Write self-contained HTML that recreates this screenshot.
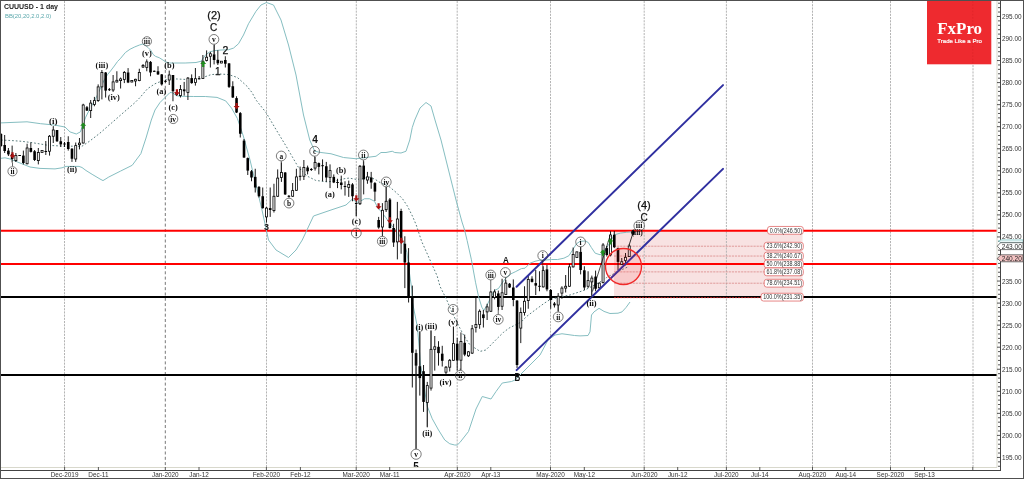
<!DOCTYPE html><html><head><meta charset="utf-8"><style>html,body{margin:0;padding:0;background:#fff;}svg{display:block;}text{font-family:"Liberation Sans",Arial,sans-serif;}.sf{font-family:"Liberation Serif","Times New Roman",serif;}</style></head><body>
<svg width="1024" height="479" viewBox="0 0 1024 479">
<rect x="0" y="0" width="1024" height="479" fill="#fff"/>
<rect x="614" y="230.65" width="188.5" height="66.35" fill="#f8e2e2"/>
<line x1="64.5" y1="1" x2="64.5" y2="467" stroke="#b4b4b4" stroke-width="1" stroke-dasharray="2.1,1.1"/>
<line x1="165.3" y1="1" x2="165.3" y2="467" stroke="#777" stroke-width="1" stroke-dasharray="3,2.3"/>
<line x1="266.5" y1="1" x2="266.5" y2="467" stroke="#b4b4b4" stroke-width="1" stroke-dasharray="2.1,1.1"/>
<line x1="356.3" y1="1" x2="356.3" y2="467" stroke="#b4b4b4" stroke-width="1" stroke-dasharray="2.1,1.1"/>
<line x1="457.2" y1="1" x2="457.2" y2="467" stroke="#b4b4b4" stroke-width="1" stroke-dasharray="2.1,1.1"/>
<line x1="550.5" y1="1" x2="550.5" y2="467" stroke="#b4b4b4" stroke-width="1" stroke-dasharray="2.1,1.1"/>
<line x1="644.2" y1="1" x2="644.2" y2="467" stroke="#b4b4b4" stroke-width="1" stroke-dasharray="2.1,1.1"/>
<line x1="726.4" y1="1" x2="726.4" y2="467" stroke="#b4b4b4" stroke-width="1" stroke-dasharray="2.1,1.1"/>
<line x1="812.5" y1="1" x2="812.5" y2="467" stroke="#b4b4b4" stroke-width="1" stroke-dasharray="2.1,1.1"/>
<line x1="890.5" y1="1" x2="890.5" y2="467" stroke="#b4b4b4" stroke-width="1" stroke-dasharray="2.1,1.1"/>
<line x1="973" y1="1" x2="973" y2="467" stroke="#b4b4b4" stroke-width="1" stroke-dasharray="2.1,1.1"/>
<line x1="614" y1="246.21" x2="802.5" y2="246.21" stroke="#d98888" stroke-width="0.8" stroke-dasharray="2.2,0.9"/>
<line x1="614" y1="256.05" x2="802.5" y2="256.05" stroke="#d98888" stroke-width="0.8" stroke-dasharray="2.2,0.9"/>
<line x1="614" y1="271.88" x2="802.5" y2="271.88" stroke="#d98888" stroke-width="0.8" stroke-dasharray="2.2,0.9"/>
<line x1="614" y1="283.21" x2="802.5" y2="283.21" stroke="#d98888" stroke-width="0.8" stroke-dasharray="2.2,0.9"/>
<line x1="1" y1="230.65" x2="997" y2="230.65" stroke="#ff0000" stroke-width="2"/>
<line x1="1" y1="263.9" x2="997" y2="263.9" stroke="#ff0000" stroke-width="2"/>
<line x1="1" y1="297" x2="997" y2="297" stroke="#000" stroke-width="2"/>
<line x1="1" y1="375" x2="997" y2="375" stroke="#000" stroke-width="2"/>
<line x1="614" y1="297.6" x2="802.5" y2="297.6" stroke="#c42020" stroke-width="0.9" stroke-dasharray="2.2,0.9"/>
<polyline points="1,122.9 27,121.8 40.7,123.7 54.2,125 65,127 70,131.9 76.3,134 80.4,131.9 82.5,125.6 85.7,117.2 89.8,108.9 93,103.5 96,98 98,93.6 101.8,85.4 104.3,79.8 107.4,74.8 110.5,71 114.3,66 117.5,61.5 120.7,58.2 125.4,52.5 130.1,49.2 134.8,46.9 139.5,45 142.3,44.1 145.1,45 147.9,47.4 150.7,50.2 153.1,54.4 155.4,56.3 159.2,57.7 162.9,60 165.8,61.9 169.5,63 174.3,63 185.1,63 196,62.5 201,61.25 206,54.4 209.75,51.9 214.75,50.6 221,50 228.5,49.75 233.5,48.1 238.5,43.75 243.5,35 248.5,23.75 256,11.25 261,5 266.5,2.5 273.5,5 281,20 288.5,45 296,75 303.5,115 309.75,140 314.75,151.25 321,152.5 331,153.75 343.5,157.5 356,158.75 366,157.5 376,156.25 381,152.5 386,152.5 392.25,151.25 394.75,152.5 401,153 406,151.25 409.75,140 412.25,127.5 414.75,120 420,108 426,102.5 431,106 435,120 441,140 448.5,170 456,200 462,222 464.6,230 467.1,240.4 471.3,259.2 475.5,282.2 478.6,296.8 481.8,307.2 483.8,310.4 487,305.2 491.1,296.8 494.3,290.5 498.5,288.5 502.6,282.2 506.8,277 511,273.8 515.2,271.8 521.4,268.6 525,268.2 530,263.2 535,261.3 540,260.1 545,260.1 551.3,259.5 557.6,259.5 563.9,258.2 568.9,255.7 572.6,250 576.4,243.8 580.2,241.3 585.2,241 588.3,242.5 591.4,247.6 595.2,253.2 600.2,254.8 602.7,252.6 606.5,247.6 610.2,242.5 614,235 620.3,233.1 626.5,232.3 631.5,231.9" fill="none" stroke="#86bec1" stroke-width="1" stroke-linejoin="round"/>
<polyline points="1,158.3 5,157.8 10,159 20,163 30,167 40,168.4 55,168.9 62,167.8 66,166.4 79,166.4 82,167.5 86,170.5 92.1,174.3 100,179 103,180.6 108.8,177 120.5,171.1 132.2,165.3 140.9,153.6 146,138 151.3,120 155,110 160,102.5 165,97.5 170,92.5 172.5,92.75 176.3,95.6 180,96.25 193.6,96.5 205.3,96.5 217,97.4 225.7,100.9 231.6,108.2 237.4,118.5 243.3,136 250,160 256,185 262,210 268.5,240 276,250 288.5,257.5 296,250 302.25,240 313.5,216 331,210 346,205 352,199.4 358.25,202.5 364.5,198.75 369.5,198.75 374.5,201.25 377,206.25 380.75,211.25 385.75,217.5 389.5,222.5 393.25,227.5 397,231.25 400.75,237.5 404.5,245 407,252.5 409,270 411.9,290 412.5,302.5 415,315 417.5,327.5 419.4,350 420.5,365 423,377.5 425.4,395 427.25,406.25 432.25,418.75 438.5,430 444.75,440 449.75,443.75 454.75,445 457.25,445 459.9,442.5 468.5,431.5 476,409 482.25,396.5 491,399 496,391.5 502.25,383 511.5,381.5 515,380 520,375 530,365 540,355 548,340 555,335 562,333.75 574.5,335.5 580,335.9 588,335.5 590,331.8 591.5,315 594,311.9 599,308.3 604,311.4 610,313.5 618,313.2 622,311.9 626,307.5 630,302" fill="none" stroke="#86bec1" stroke-width="1" stroke-linejoin="round"/>
<polyline points="1,140 10.8,140.5 21.7,141.3 32.5,142.7 48.8,145.4 65,146.2 75.9,146.2 81.3,146.7 89.4,141.3 100,133.1 111.7,122.9 123.4,112.6 135.1,102.5 140,97.5 147.5,88.75 155,83.75 161.3,81.25 165,80 171.3,78.75 177.5,79 185,79.4 200,78.5 211.1,74.6 219.9,74 228.7,74.6 237.4,77.5 246.8,86 252,92.5 256,100 266,112.5 276,129.5 286.5,146.8 298.2,167 307,176 315.7,180.4 327.4,181.9 339,180.4 344,178.75 349,178.1 356.5,179.4 362.75,178.75 369,176.9 375.25,179.4 380,182.5 388.75,186.25 396.25,192.5 402.5,198.75 407.5,206.25 412.5,216.25 416.25,225 421.6,241.25 432.25,265 437.25,276.25 440,286.4 446.3,298.9 452.5,313.5 458.8,326 464,336 470,345 478,350 480,351.4 485.8,350 491.7,344.1 497.5,338.2 503.4,332.4 509.2,328 515.1,325.1 520.9,322.2 526.8,316.3 532.6,311.9 538.5,307.5 544.3,303.2 550.2,299.5 560,297 570,295 585,290 600,282 606.5,277.6 617,272 629,266.4" fill="none" stroke="#587c7d" stroke-width="1" stroke-dasharray="1.7,2" stroke-linejoin="round"/>
<line x1="0.92" y1="133" x2="0.92" y2="147" stroke="#000" stroke-width="0.9"/>
<rect x="-0.38" y="134" width="2.6" height="12" fill="#000"/>
<line x1="4.66" y1="135" x2="4.66" y2="153" stroke="#000" stroke-width="0.9"/>
<rect x="3.36" y="145" width="2.6" height="6" fill="#000"/>
<line x1="8.4" y1="148" x2="8.4" y2="156" stroke="#000" stroke-width="0.9"/>
<rect x="7.1" y="150.6" width="2.6" height="3.8" fill="#000"/>
<line x1="12.14" y1="145.6" x2="12.14" y2="162.5" stroke="#000" stroke-width="0.9"/>
<rect x="10.84" y="154" width="2.6" height="5" fill="#000"/>
<line x1="15.88" y1="153" x2="15.88" y2="162" stroke="#000" stroke-width="0.9"/>
<rect x="14.88" y="155.6" width="2.0" height="5" fill="#fff" stroke="#000" stroke-width="0.8"/>
<line x1="19.62" y1="155" x2="19.62" y2="156" stroke="#000" stroke-width="0.9"/>
<rect x="18.32" y="155" width="2.6" height="1" fill="#000"/>
<line x1="23.36" y1="150.6" x2="23.36" y2="164.4" stroke="#000" stroke-width="0.9"/>
<rect x="22.06" y="155.6" width="2.6" height="7.4" fill="#000"/>
<line x1="27.1" y1="143.75" x2="27.1" y2="164.4" stroke="#000" stroke-width="0.9"/>
<rect x="26.1" y="148" width="2.0" height="15.75" fill="#fff" stroke="#000" stroke-width="0.8"/>
<line x1="30.84" y1="142.5" x2="30.84" y2="152.5" stroke="#000" stroke-width="0.9"/>
<rect x="29.54" y="148" width="2.6" height="3.9" fill="#000"/>
<line x1="34.58" y1="150" x2="34.58" y2="161" stroke="#000" stroke-width="0.9"/>
<rect x="33.28" y="151.25" width="2.6" height="8.75" fill="#000"/>
<line x1="38.32" y1="148" x2="38.32" y2="164.4" stroke="#000" stroke-width="0.9"/>
<rect x="37.32" y="152.5" width="2.0" height="8.1" fill="#fff" stroke="#000" stroke-width="0.8"/>
<line x1="42.06" y1="150.4" x2="42.06" y2="152.5" stroke="#000" stroke-width="0.9"/>
<rect x="41.06" y="150.4" width="2.0" height="2.1" fill="#fff" stroke="#000" stroke-width="0.8"/>
<line x1="45.8" y1="141" x2="45.8" y2="155" stroke="#000" stroke-width="0.9"/>
<rect x="44.5" y="151" width="2.6" height="1" fill="#000"/>
<line x1="49.54" y1="135" x2="49.54" y2="155.6" stroke="#000" stroke-width="0.9"/>
<rect x="48.54" y="136.25" width="2.0" height="15" fill="#fff" stroke="#000" stroke-width="0.8"/>
<line x1="53.28" y1="126.25" x2="53.28" y2="143" stroke="#000" stroke-width="0.9"/>
<rect x="52.28" y="130" width="2.0" height="6.25" fill="#fff" stroke="#000" stroke-width="0.8"/>
<line x1="57.02" y1="130" x2="57.02" y2="142" stroke="#000" stroke-width="0.9"/>
<rect x="55.72" y="130" width="2.6" height="11.25" fill="#000"/>
<line x1="60.76" y1="137" x2="60.76" y2="147" stroke="#000" stroke-width="0.9"/>
<rect x="59.46" y="141.25" width="2.6" height="3.15" fill="#000"/>
<line x1="64.5" y1="142" x2="64.5" y2="147" stroke="#000" stroke-width="0.9"/>
<rect x="63.2" y="143.5" width="2.6" height="1" fill="#000"/>
<line x1="68.24" y1="136.25" x2="68.24" y2="150.6" stroke="#000" stroke-width="0.9"/>
<rect x="66.94" y="142" width="2.6" height="7" fill="#000"/>
<line x1="71.98" y1="148" x2="71.98" y2="161.9" stroke="#000" stroke-width="0.9"/>
<rect x="70.68" y="148.75" width="2.6" height="10" fill="#000"/>
<line x1="75.72" y1="142.5" x2="75.72" y2="161.9" stroke="#000" stroke-width="0.9"/>
<rect x="74.72" y="145.6" width="2.0" height="13.4" fill="#fff" stroke="#000" stroke-width="0.8"/>
<line x1="79.46" y1="138" x2="79.46" y2="149.4" stroke="#000" stroke-width="0.9"/>
<rect x="78.46" y="143.1" width="2.0" height="1.65" fill="#fff" stroke="#000" stroke-width="0.8"/>
<line x1="83.2" y1="103.75" x2="83.2" y2="143.5" stroke="#000" stroke-width="0.9"/>
<rect x="82.2" y="105" width="2.0" height="38" fill="#fff" stroke="#000" stroke-width="0.8"/>
<line x1="86.94" y1="106" x2="86.94" y2="111" stroke="#000" stroke-width="0.9"/>
<rect x="85.64" y="107.25" width="2.6" height="3.35" fill="#000"/>
<line x1="90.68" y1="100" x2="90.68" y2="118" stroke="#000" stroke-width="0.9"/>
<rect x="89.68" y="103.1" width="2.0" height="7.5" fill="#fff" stroke="#000" stroke-width="0.8"/>
<line x1="94.42" y1="96.9" x2="94.42" y2="106.25" stroke="#000" stroke-width="0.9"/>
<rect x="93.42" y="100.6" width="2.0" height="3.8" fill="#fff" stroke="#000" stroke-width="0.8"/>
<line x1="98.16" y1="84.4" x2="98.16" y2="101.9" stroke="#000" stroke-width="0.9"/>
<rect x="97.16" y="86.9" width="2.0" height="13.7" fill="#fff" stroke="#000" stroke-width="0.8"/>
<line x1="101.9" y1="70" x2="101.9" y2="99.4" stroke="#000" stroke-width="0.9"/>
<rect x="100.9" y="72.5" width="2.0" height="14.4" fill="#fff" stroke="#000" stroke-width="0.8"/>
<line x1="105.64" y1="72" x2="105.64" y2="97.5" stroke="#000" stroke-width="0.9"/>
<rect x="104.34" y="72.5" width="2.6" height="18.1" fill="#000"/>
<line x1="109.38" y1="88" x2="109.38" y2="91" stroke="#000" stroke-width="0.9"/>
<rect x="108.08" y="89.2" width="2.6" height="1" fill="#000"/>
<line x1="113.12" y1="75" x2="113.12" y2="91.9" stroke="#000" stroke-width="0.9"/>
<rect x="112.12" y="81.9" width="2.0" height="8.1" fill="#fff" stroke="#000" stroke-width="0.8"/>
<line x1="116.86" y1="71.25" x2="116.86" y2="82.5" stroke="#000" stroke-width="0.9"/>
<rect x="115.86" y="80.3" width="2.0" height="1.7" fill="#fff" stroke="#000" stroke-width="0.8"/>
<line x1="120.6" y1="77.5" x2="120.6" y2="88.5" stroke="#000" stroke-width="0.9"/>
<rect x="119.6" y="78.9" width="2.0" height="1.7" fill="#fff" stroke="#000" stroke-width="0.8"/>
<line x1="124.34" y1="71" x2="124.34" y2="83.1" stroke="#000" stroke-width="0.9"/>
<rect x="123.34" y="72.5" width="2.0" height="6.9" fill="#fff" stroke="#000" stroke-width="0.8"/>
<line x1="128.08" y1="68.1" x2="128.08" y2="83.1" stroke="#000" stroke-width="0.9"/>
<rect x="126.78" y="72.5" width="2.6" height="10" fill="#000"/>
<line x1="131.82" y1="80" x2="131.82" y2="82.3" stroke="#000" stroke-width="0.9"/>
<rect x="130.82" y="80.4" width="2.0" height="1.6" fill="#fff" stroke="#000" stroke-width="0.8"/>
<line x1="135.56" y1="78.75" x2="135.56" y2="86.25" stroke="#000" stroke-width="0.9"/>
<rect x="134.56" y="79.3" width="2.0" height="1.7" fill="#fff" stroke="#000" stroke-width="0.8"/>
<line x1="139.3" y1="68.75" x2="139.3" y2="81.25" stroke="#000" stroke-width="0.9"/>
<rect x="138.3" y="72.5" width="2.0" height="8.1" fill="#fff" stroke="#000" stroke-width="0.8"/>
<line x1="143.04" y1="64" x2="143.04" y2="68" stroke="#000" stroke-width="0.9"/>
<rect x="142.04" y="65.5" width="2.0" height="1.5" fill="#fff" stroke="#000" stroke-width="0.8"/>
<line x1="146.78" y1="59.4" x2="146.78" y2="71.25" stroke="#000" stroke-width="0.9"/>
<rect x="145.78" y="61.9" width="2.0" height="5.6" fill="#fff" stroke="#000" stroke-width="0.8"/>
<line x1="150.52" y1="61" x2="150.52" y2="76.25" stroke="#000" stroke-width="0.9"/>
<rect x="149.22" y="61.9" width="2.6" height="10.6" fill="#000"/>
<line x1="154.26" y1="70.5" x2="154.26" y2="72" stroke="#000" stroke-width="0.9"/>
<rect x="152.96" y="70.8" width="2.6" height="1" fill="#000"/>
<line x1="158" y1="66.25" x2="158" y2="75" stroke="#000" stroke-width="0.9"/>
<rect x="156.7" y="71.25" width="2.6" height="3.15" fill="#000"/>
<line x1="161.74" y1="74" x2="161.74" y2="85.6" stroke="#000" stroke-width="0.9"/>
<rect x="160.44" y="74.4" width="2.6" height="10" fill="#000"/>
<line x1="165.48" y1="80" x2="165.48" y2="82.5" stroke="#000" stroke-width="0.9"/>
<rect x="164.18" y="80.8" width="2.6" height="1" fill="#000"/>
<line x1="169.22" y1="70.6" x2="169.22" y2="85" stroke="#000" stroke-width="0.9"/>
<rect x="168.22" y="75" width="2.0" height="5" fill="#fff" stroke="#000" stroke-width="0.8"/>
<line x1="172.96" y1="75" x2="172.96" y2="101.25" stroke="#000" stroke-width="0.9"/>
<rect x="171.66" y="75" width="2.6" height="16.25" fill="#000"/>
<line x1="176.7" y1="91" x2="176.7" y2="96" stroke="#000" stroke-width="0.9"/>
<rect x="175.4" y="92" width="2.6" height="3" fill="#000"/>
<line x1="180.44" y1="85" x2="180.44" y2="97.5" stroke="#000" stroke-width="0.9"/>
<rect x="179.44" y="89.4" width="2.0" height="6.2" fill="#fff" stroke="#000" stroke-width="0.8"/>
<line x1="184.18" y1="81.9" x2="184.18" y2="95.6" stroke="#000" stroke-width="0.9"/>
<rect x="182.88" y="89.4" width="2.6" height="1.85" fill="#000"/>
<line x1="187.92" y1="77" x2="187.92" y2="100" stroke="#000" stroke-width="0.9"/>
<rect x="186.92" y="78.1" width="2.0" height="14.4" fill="#fff" stroke="#000" stroke-width="0.8"/>
<line x1="191.66" y1="74.4" x2="191.66" y2="83.75" stroke="#000" stroke-width="0.9"/>
<rect x="190.36" y="78.1" width="2.6" height="5" fill="#000"/>
<line x1="195.4" y1="68" x2="195.4" y2="85.6" stroke="#000" stroke-width="0.9"/>
<rect x="194.4" y="78.75" width="2.0" height="3.75" fill="#fff" stroke="#000" stroke-width="0.8"/>
<line x1="199.14" y1="76" x2="199.14" y2="79.5" stroke="#000" stroke-width="0.9"/>
<rect x="197.84" y="78.25" width="2.6" height="1" fill="#000"/>
<line x1="202.88" y1="55" x2="202.88" y2="79" stroke="#000" stroke-width="0.9"/>
<rect x="201.88" y="61.25" width="2.0" height="17.15" fill="#fff" stroke="#000" stroke-width="0.8"/>
<line x1="206.62" y1="50.4" x2="206.62" y2="61.4" stroke="#000" stroke-width="0.9"/>
<rect x="205.62" y="57.2" width="2.0" height="3.2" fill="#fff" stroke="#000" stroke-width="0.8"/>
<line x1="210.36" y1="51.9" x2="210.36" y2="67.5" stroke="#000" stroke-width="0.9"/>
<rect x="209.36" y="53.75" width="2.0" height="2.5" fill="#fff" stroke="#000" stroke-width="0.8"/>
<line x1="214.1" y1="45" x2="214.1" y2="64.4" stroke="#000" stroke-width="0.9"/>
<rect x="212.8" y="54.4" width="2.6" height="5.6" fill="#000"/>
<line x1="217.84" y1="50.2" x2="217.84" y2="65" stroke="#000" stroke-width="0.9"/>
<rect x="216.54" y="59.8" width="2.6" height="3.5" fill="#000"/>
<line x1="221.58" y1="61" x2="221.58" y2="63.2" stroke="#000" stroke-width="0.9"/>
<rect x="220.58" y="61.2" width="2.0" height="1.8" fill="#fff" stroke="#000" stroke-width="0.8"/>
<line x1="225.32" y1="56.25" x2="225.32" y2="67.5" stroke="#000" stroke-width="0.9"/>
<rect x="224.02" y="60" width="2.6" height="3.75" fill="#000"/>
<line x1="229.06" y1="63" x2="229.06" y2="88" stroke="#000" stroke-width="0.9"/>
<rect x="227.76" y="63.4" width="2.6" height="23.5" fill="#000"/>
<line x1="232.8" y1="81.25" x2="232.8" y2="98" stroke="#000" stroke-width="0.9"/>
<rect x="231.5" y="86.25" width="2.6" height="11.25" fill="#000"/>
<line x1="236.54" y1="96.25" x2="236.54" y2="113" stroke="#000" stroke-width="0.9"/>
<rect x="235.24" y="98.1" width="2.6" height="14.4" fill="#000"/>
<line x1="240.28" y1="112" x2="240.28" y2="137.5" stroke="#000" stroke-width="0.9"/>
<rect x="238.98" y="113.1" width="2.6" height="20.65" fill="#000"/>
<line x1="244.02" y1="139" x2="244.02" y2="158" stroke="#000" stroke-width="0.9"/>
<rect x="242.72" y="140.6" width="2.6" height="16.9" fill="#000"/>
<line x1="247.76" y1="157.5" x2="247.76" y2="175" stroke="#000" stroke-width="0.9"/>
<rect x="246.46" y="158.1" width="2.6" height="12.5" fill="#000"/>
<line x1="251.5" y1="170" x2="251.5" y2="181.25" stroke="#000" stroke-width="0.9"/>
<rect x="250.2" y="171.25" width="2.6" height="6.25" fill="#000"/>
<line x1="255.24" y1="168.75" x2="255.24" y2="192.5" stroke="#000" stroke-width="0.9"/>
<rect x="253.94" y="176.9" width="2.6" height="10.6" fill="#000"/>
<line x1="258.98" y1="186" x2="258.98" y2="197.5" stroke="#000" stroke-width="0.9"/>
<rect x="257.68" y="186.9" width="2.6" height="9.35" fill="#000"/>
<line x1="262.72" y1="187.5" x2="262.72" y2="208.75" stroke="#000" stroke-width="0.9"/>
<rect x="261.42" y="196.25" width="2.6" height="11.85" fill="#000"/>
<line x1="266.46" y1="207" x2="266.46" y2="222.5" stroke="#000" stroke-width="0.9"/>
<rect x="265.46" y="208.1" width="2.0" height="8.8" fill="#fff" stroke="#000" stroke-width="0.8"/>
<line x1="270.2" y1="187.5" x2="270.2" y2="216.9" stroke="#000" stroke-width="0.9"/>
<rect x="268.9" y="208.1" width="2.6" height="1.9" fill="#000"/>
<line x1="273.94" y1="183.75" x2="273.94" y2="212.5" stroke="#000" stroke-width="0.9"/>
<rect x="272.94" y="196.25" width="2.0" height="14.35" fill="#fff" stroke="#000" stroke-width="0.8"/>
<line x1="277.68" y1="169.4" x2="277.68" y2="197" stroke="#000" stroke-width="0.9"/>
<rect x="276.68" y="178.1" width="2.0" height="18.15" fill="#fff" stroke="#000" stroke-width="0.8"/>
<line x1="281.42" y1="162.5" x2="281.42" y2="181.9" stroke="#000" stroke-width="0.9"/>
<rect x="280.42" y="172.5" width="2.0" height="5" fill="#fff" stroke="#000" stroke-width="0.8"/>
<line x1="285.16" y1="172" x2="285.16" y2="195" stroke="#000" stroke-width="0.9"/>
<rect x="283.86" y="172.5" width="2.6" height="21.9" fill="#000"/>
<line x1="288.9" y1="195" x2="288.9" y2="197" stroke="#000" stroke-width="0.9"/>
<rect x="287.6" y="195.8" width="2.6" height="1" fill="#000"/>
<line x1="292.64" y1="183" x2="292.64" y2="196.9" stroke="#000" stroke-width="0.9"/>
<rect x="291.64" y="190.6" width="2.0" height="5.65" fill="#fff" stroke="#000" stroke-width="0.8"/>
<line x1="296.38" y1="168.75" x2="296.38" y2="191" stroke="#000" stroke-width="0.9"/>
<rect x="295.38" y="176.9" width="2.0" height="13.4" fill="#fff" stroke="#000" stroke-width="0.8"/>
<line x1="300.12" y1="166.6" x2="300.12" y2="180.6" stroke="#000" stroke-width="0.9"/>
<rect x="298.82" y="175.8" width="2.6" height="1" fill="#000"/>
<line x1="303.86" y1="160" x2="303.86" y2="180" stroke="#000" stroke-width="0.9"/>
<rect x="302.86" y="167.5" width="2.0" height="8.75" fill="#fff" stroke="#000" stroke-width="0.8"/>
<line x1="307.6" y1="165.6" x2="307.6" y2="174.4" stroke="#000" stroke-width="0.9"/>
<rect x="306.3" y="167.5" width="2.6" height="3.75" fill="#000"/>
<line x1="311.34" y1="168" x2="311.34" y2="171" stroke="#000" stroke-width="0.9"/>
<rect x="310.04" y="169" width="2.6" height="1" fill="#000"/>
<line x1="315.08" y1="156.9" x2="315.08" y2="170.6" stroke="#000" stroke-width="0.9"/>
<rect x="314.08" y="162.5" width="2.0" height="5.6" fill="#fff" stroke="#000" stroke-width="0.8"/>
<line x1="318.82" y1="162.5" x2="318.82" y2="174.4" stroke="#000" stroke-width="0.9"/>
<rect x="317.52" y="163.1" width="2.6" height="3.8" fill="#000"/>
<line x1="322.56" y1="159.4" x2="322.56" y2="181.25" stroke="#000" stroke-width="0.9"/>
<rect x="321.26" y="165.2" width="2.6" height="1" fill="#000"/>
<line x1="326.3" y1="161.9" x2="326.3" y2="181.9" stroke="#000" stroke-width="0.9"/>
<rect x="325" y="166.25" width="2.6" height="11.25" fill="#000"/>
<line x1="330.04" y1="164.4" x2="330.04" y2="188.1" stroke="#000" stroke-width="0.9"/>
<rect x="329.04" y="170.6" width="2.0" height="6.9" fill="#fff" stroke="#000" stroke-width="0.8"/>
<line x1="333.78" y1="174.4" x2="333.78" y2="183.1" stroke="#000" stroke-width="0.9"/>
<rect x="332.48" y="176.9" width="2.6" height="5.6" fill="#000"/>
<line x1="337.52" y1="178.75" x2="337.52" y2="188.1" stroke="#000" stroke-width="0.9"/>
<rect x="336.22" y="182" width="2.6" height="1" fill="#000"/>
<line x1="341.26" y1="175.6" x2="341.26" y2="189.4" stroke="#000" stroke-width="0.9"/>
<rect x="339.96" y="182.5" width="2.6" height="2.5" fill="#000"/>
<line x1="345" y1="181.25" x2="345" y2="195.6" stroke="#000" stroke-width="0.9"/>
<rect x="343.7" y="186" width="2.6" height="1" fill="#000"/>
<line x1="348.74" y1="180.6" x2="348.74" y2="196.9" stroke="#000" stroke-width="0.9"/>
<rect x="347.74" y="184.4" width="2.0" height="3.1" fill="#fff" stroke="#000" stroke-width="0.8"/>
<line x1="352.48" y1="183.1" x2="352.48" y2="201.25" stroke="#000" stroke-width="0.9"/>
<rect x="351.18" y="184.4" width="2.6" height="11.85" fill="#000"/>
<line x1="356.22" y1="201" x2="356.22" y2="216.25" stroke="#000" stroke-width="0.9"/>
<rect x="354.92" y="203" width="2.6" height="1" fill="#000"/>
<line x1="359.96" y1="165" x2="359.96" y2="205" stroke="#000" stroke-width="0.9"/>
<rect x="358.96" y="166.25" width="2.0" height="37.5" fill="#fff" stroke="#000" stroke-width="0.8"/>
<line x1="363.7" y1="161.25" x2="363.7" y2="194.4" stroke="#000" stroke-width="0.9"/>
<rect x="362.4" y="165.6" width="2.6" height="13.8" fill="#000"/>
<line x1="367.44" y1="171.9" x2="367.44" y2="183.75" stroke="#000" stroke-width="0.9"/>
<rect x="366.44" y="176.9" width="2.0" height="3.1" fill="#fff" stroke="#000" stroke-width="0.8"/>
<line x1="371.18" y1="171.9" x2="371.18" y2="188.75" stroke="#000" stroke-width="0.9"/>
<rect x="369.88" y="177.5" width="2.6" height="5" fill="#000"/>
<line x1="374.92" y1="182" x2="374.92" y2="201" stroke="#000" stroke-width="0.9"/>
<rect x="373.62" y="183.1" width="2.6" height="8.5" fill="#000"/>
<line x1="378.66" y1="216.9" x2="378.66" y2="228.75" stroke="#000" stroke-width="0.9"/>
<rect x="377.36" y="220" width="2.6" height="7.5" fill="#000"/>
<line x1="382.4" y1="203.1" x2="382.4" y2="236.25" stroke="#000" stroke-width="0.9"/>
<rect x="381.4" y="210.3" width="2.0" height="16.7" fill="#fff" stroke="#000" stroke-width="0.8"/>
<line x1="386.14" y1="187" x2="386.14" y2="212" stroke="#000" stroke-width="0.9"/>
<rect x="385.14" y="201.25" width="2.0" height="8.45" fill="#fff" stroke="#000" stroke-width="0.8"/>
<line x1="389.88" y1="198" x2="389.88" y2="228.5" stroke="#000" stroke-width="0.9"/>
<rect x="388.58" y="199.5" width="2.6" height="28.5" fill="#000"/>
<line x1="393.62" y1="223.75" x2="393.62" y2="246.9" stroke="#000" stroke-width="0.9"/>
<rect x="392.32" y="228" width="2.6" height="14.5" fill="#000"/>
<line x1="397.36" y1="201.9" x2="397.36" y2="259.4" stroke="#000" stroke-width="0.9"/>
<rect x="396.36" y="219" width="2.0" height="22.9" fill="#fff" stroke="#000" stroke-width="0.8"/>
<line x1="401.1" y1="208.75" x2="401.1" y2="253.75" stroke="#000" stroke-width="0.9"/>
<rect x="399.8" y="211" width="2.6" height="30.25" fill="#000"/>
<line x1="404.84" y1="236.25" x2="404.84" y2="288.1" stroke="#000" stroke-width="0.9"/>
<rect x="403.54" y="243.75" width="2.6" height="18.75" fill="#000"/>
<line x1="408.58" y1="248.1" x2="408.58" y2="302.5" stroke="#000" stroke-width="0.9"/>
<rect x="407.28" y="262.5" width="2.6" height="33.75" fill="#000"/>
<line x1="412.32" y1="285.6" x2="412.32" y2="387.5" stroke="#000" stroke-width="0.9"/>
<rect x="411.02" y="296.25" width="2.6" height="56.55" fill="#000"/>
<line x1="416.06" y1="349.5" x2="416.06" y2="448.75" stroke="#000" stroke-width="0.9"/>
<rect x="414.76" y="353.1" width="2.6" height="12.5" fill="#000"/>
<line x1="419.8" y1="331.75" x2="419.8" y2="395.6" stroke="#000" stroke-width="0.9"/>
<rect x="418.5" y="366.2" width="2.6" height="11.9" fill="#000"/>
<line x1="423.54" y1="365" x2="423.54" y2="411.9" stroke="#000" stroke-width="0.9"/>
<rect x="422.24" y="371.2" width="2.6" height="30.7" fill="#000"/>
<line x1="427.28" y1="381.9" x2="427.28" y2="426.9" stroke="#000" stroke-width="0.9"/>
<rect x="426.28" y="385.6" width="2.0" height="16.9" fill="#fff" stroke="#000" stroke-width="0.8"/>
<line x1="431.02" y1="330.5" x2="431.02" y2="390.6" stroke="#000" stroke-width="0.9"/>
<rect x="430.02" y="349.3" width="2.0" height="38.8" fill="#fff" stroke="#000" stroke-width="0.8"/>
<line x1="434.76" y1="336" x2="434.76" y2="370.6" stroke="#000" stroke-width="0.9"/>
<rect x="433.76" y="346.8" width="2.0" height="2.5" fill="#fff" stroke="#000" stroke-width="0.8"/>
<line x1="438.5" y1="341.2" x2="438.5" y2="365.6" stroke="#000" stroke-width="0.9"/>
<rect x="437.2" y="346.8" width="2.6" height="6.3" fill="#000"/>
<line x1="442.24" y1="345.8" x2="442.24" y2="366.5" stroke="#000" stroke-width="0.9"/>
<rect x="440.94" y="353.7" width="2.6" height="7.1" fill="#000"/>
<line x1="445.98" y1="366" x2="445.98" y2="376" stroke="#000" stroke-width="0.9"/>
<rect x="444.98" y="367.2" width="2.0" height="5" fill="#fff" stroke="#000" stroke-width="0.8"/>
<line x1="449.72" y1="359" x2="449.72" y2="371.5" stroke="#000" stroke-width="0.9"/>
<rect x="448.72" y="360.3" width="2.0" height="6.9" fill="#fff" stroke="#000" stroke-width="0.8"/>
<line x1="453.46" y1="326.75" x2="453.46" y2="360.8" stroke="#000" stroke-width="0.9"/>
<rect x="452.46" y="343.6" width="2.0" height="16.7" fill="#fff" stroke="#000" stroke-width="0.8"/>
<line x1="457.2" y1="338" x2="457.2" y2="370.5" stroke="#000" stroke-width="0.9"/>
<rect x="455.9" y="343.7" width="2.6" height="16.8" fill="#000"/>
<line x1="460.94" y1="332.4" x2="460.94" y2="370" stroke="#000" stroke-width="0.9"/>
<rect x="459.94" y="341.5" width="2.0" height="18.7" fill="#fff" stroke="#000" stroke-width="0.8"/>
<line x1="464.68" y1="334.6" x2="464.68" y2="356.2" stroke="#000" stroke-width="0.9"/>
<rect x="463.38" y="342.8" width="2.6" height="11.8" fill="#000"/>
<line x1="468.42" y1="351" x2="468.42" y2="357" stroke="#000" stroke-width="0.9"/>
<rect x="467.42" y="351.8" width="2.0" height="4" fill="#fff" stroke="#000" stroke-width="0.8"/>
<line x1="472.16" y1="325" x2="472.16" y2="354" stroke="#000" stroke-width="0.9"/>
<rect x="471.16" y="328.75" width="2.0" height="24.35" fill="#fff" stroke="#000" stroke-width="0.8"/>
<line x1="475.9" y1="298" x2="475.9" y2="332.5" stroke="#000" stroke-width="0.9"/>
<rect x="474.9" y="324.4" width="2.0" height="3.1" fill="#fff" stroke="#000" stroke-width="0.8"/>
<line x1="479.64" y1="309.4" x2="479.64" y2="328.75" stroke="#000" stroke-width="0.9"/>
<rect x="478.64" y="311.25" width="2.0" height="13.15" fill="#fff" stroke="#000" stroke-width="0.8"/>
<line x1="483.38" y1="310" x2="483.38" y2="327.5" stroke="#000" stroke-width="0.9"/>
<rect x="482.08" y="314.4" width="2.6" height="3.7" fill="#000"/>
<line x1="487.12" y1="303.75" x2="487.12" y2="320" stroke="#000" stroke-width="0.9"/>
<rect x="486.12" y="306.9" width="2.0" height="5" fill="#fff" stroke="#000" stroke-width="0.8"/>
<line x1="490.86" y1="291.25" x2="490.86" y2="312" stroke="#000" stroke-width="0.9"/>
<rect x="489.86" y="292" width="2.0" height="19.25" fill="#fff" stroke="#000" stroke-width="0.8"/>
<line x1="494.6" y1="289.4" x2="494.6" y2="299.4" stroke="#000" stroke-width="0.9"/>
<rect x="493.6" y="291.9" width="2.0" height="5.6" fill="#fff" stroke="#000" stroke-width="0.8"/>
<line x1="498.34" y1="290.6" x2="498.34" y2="310.6" stroke="#000" stroke-width="0.9"/>
<rect x="497.04" y="293.4" width="2.6" height="13.5" fill="#000"/>
<line x1="502.08" y1="278.75" x2="502.08" y2="310" stroke="#000" stroke-width="0.9"/>
<rect x="501.08" y="292.8" width="2.0" height="13.45" fill="#fff" stroke="#000" stroke-width="0.8"/>
<line x1="505.82" y1="280" x2="505.82" y2="295" stroke="#000" stroke-width="0.9"/>
<rect x="504.82" y="283.1" width="2.0" height="11.3" fill="#fff" stroke="#000" stroke-width="0.8"/>
<line x1="509.56" y1="283" x2="509.56" y2="288" stroke="#000" stroke-width="0.9"/>
<rect x="508.26" y="283.75" width="2.6" height="3.75" fill="#000"/>
<line x1="513.3" y1="279.4" x2="513.3" y2="306.25" stroke="#000" stroke-width="0.9"/>
<rect x="512" y="287.5" width="2.6" height="12.5" fill="#000"/>
<line x1="517.04" y1="300" x2="517.04" y2="368" stroke="#000" stroke-width="0.9"/>
<rect x="515.74" y="300.6" width="2.6" height="64.4" fill="#000"/>
<line x1="520.78" y1="307.5" x2="520.78" y2="343.1" stroke="#000" stroke-width="0.9"/>
<rect x="519.78" y="312.5" width="2.0" height="15.6" fill="#fff" stroke="#000" stroke-width="0.8"/>
<line x1="524.52" y1="286.25" x2="524.52" y2="315.6" stroke="#000" stroke-width="0.9"/>
<rect x="523.52" y="301.25" width="2.0" height="11.25" fill="#fff" stroke="#000" stroke-width="0.8"/>
<line x1="528.26" y1="276" x2="528.26" y2="308.75" stroke="#000" stroke-width="0.9"/>
<rect x="527.26" y="279.4" width="2.0" height="21.2" fill="#fff" stroke="#000" stroke-width="0.8"/>
<line x1="532" y1="276.25" x2="532" y2="282.5" stroke="#000" stroke-width="0.9"/>
<rect x="530.7" y="278.75" width="2.6" height="3.15" fill="#000"/>
<line x1="535.74" y1="270" x2="535.74" y2="295" stroke="#000" stroke-width="0.9"/>
<rect x="534.44" y="283.1" width="2.6" height="2.5" fill="#000"/>
<line x1="539.48" y1="271.25" x2="539.48" y2="291.25" stroke="#000" stroke-width="0.9"/>
<rect x="538.18" y="285.8" width="2.6" height="1" fill="#000"/>
<line x1="543.22" y1="266.25" x2="543.22" y2="287.5" stroke="#000" stroke-width="0.9"/>
<rect x="542.22" y="270.6" width="2.0" height="16.3" fill="#fff" stroke="#000" stroke-width="0.8"/>
<line x1="546.96" y1="265" x2="546.96" y2="291.25" stroke="#000" stroke-width="0.9"/>
<rect x="545.66" y="269.4" width="2.6" height="20" fill="#000"/>
<line x1="550.7" y1="289" x2="550.7" y2="308.75" stroke="#000" stroke-width="0.9"/>
<rect x="549.4" y="290" width="2.6" height="10" fill="#000"/>
<line x1="554.44" y1="302" x2="554.44" y2="307.5" stroke="#000" stroke-width="0.9"/>
<rect x="553.14" y="303.5" width="2.6" height="1.8" fill="#000"/>
<line x1="558.18" y1="293.1" x2="558.18" y2="311.25" stroke="#000" stroke-width="0.9"/>
<rect x="557.18" y="296.25" width="2.0" height="8.75" fill="#fff" stroke="#000" stroke-width="0.8"/>
<line x1="561.92" y1="286.25" x2="561.92" y2="298.75" stroke="#000" stroke-width="0.9"/>
<rect x="560.92" y="288.1" width="2.0" height="5" fill="#fff" stroke="#000" stroke-width="0.8"/>
<line x1="565.66" y1="275" x2="565.66" y2="292.5" stroke="#000" stroke-width="0.9"/>
<rect x="564.66" y="286.25" width="2.0" height="1.85" fill="#fff" stroke="#000" stroke-width="0.8"/>
<line x1="569.4" y1="263.75" x2="569.4" y2="287" stroke="#000" stroke-width="0.9"/>
<rect x="568.4" y="266.9" width="2.0" height="19.35" fill="#fff" stroke="#000" stroke-width="0.8"/>
<line x1="573.14" y1="247.5" x2="573.14" y2="267.5" stroke="#000" stroke-width="0.9"/>
<rect x="572.14" y="254.4" width="2.0" height="12.5" fill="#fff" stroke="#000" stroke-width="0.8"/>
<line x1="576.88" y1="251.5" x2="576.88" y2="258" stroke="#000" stroke-width="0.9"/>
<rect x="575.88" y="251.9" width="2.0" height="5.6" fill="#fff" stroke="#000" stroke-width="0.8"/>
<line x1="580.62" y1="246.9" x2="580.62" y2="274.4" stroke="#000" stroke-width="0.9"/>
<rect x="579.32" y="251.9" width="2.6" height="18.1" fill="#000"/>
<line x1="584.36" y1="266.25" x2="584.36" y2="290" stroke="#000" stroke-width="0.9"/>
<rect x="583.06" y="270.3" width="2.6" height="17.2" fill="#000"/>
<line x1="588.1" y1="271.25" x2="588.1" y2="288.1" stroke="#000" stroke-width="0.9"/>
<rect x="587.1" y="280.6" width="2.0" height="5.65" fill="#fff" stroke="#000" stroke-width="0.8"/>
<line x1="591.84" y1="275.6" x2="591.84" y2="295" stroke="#000" stroke-width="0.9"/>
<rect x="590.84" y="278.1" width="2.0" height="3.8" fill="#fff" stroke="#000" stroke-width="0.8"/>
<line x1="595.58" y1="270.6" x2="595.58" y2="291.25" stroke="#000" stroke-width="0.9"/>
<rect x="594.28" y="276.6" width="2.6" height="12.15" fill="#000"/>
<line x1="599.32" y1="282.5" x2="599.32" y2="288.5" stroke="#000" stroke-width="0.9"/>
<rect x="598.32" y="283.1" width="2.0" height="4.7" fill="#fff" stroke="#000" stroke-width="0.8"/>
<line x1="603.06" y1="243.1" x2="603.06" y2="283.5" stroke="#000" stroke-width="0.9"/>
<rect x="602.06" y="245" width="2.0" height="37.5" fill="#fff" stroke="#000" stroke-width="0.8"/>
<line x1="606.8" y1="246" x2="606.8" y2="256.5" stroke="#000" stroke-width="0.9"/>
<rect x="605.5" y="248.1" width="2.6" height="6.9" fill="#000"/>
<line x1="610.54" y1="231.25" x2="610.54" y2="256.4" stroke="#000" stroke-width="0.9"/>
<rect x="609.54" y="235" width="2.0" height="20" fill="#fff" stroke="#000" stroke-width="0.8"/>
<line x1="614.28" y1="231" x2="614.28" y2="248" stroke="#000" stroke-width="0.9"/>
<rect x="612.98" y="234.7" width="2.6" height="12.5" fill="#000"/>
<line x1="618.02" y1="247.6" x2="618.02" y2="270" stroke="#000" stroke-width="0.9"/>
<rect x="616.72" y="248.1" width="2.6" height="13.8" fill="#000"/>
<line x1="621.76" y1="258" x2="621.76" y2="265" stroke="#000" stroke-width="0.9"/>
<rect x="620.76" y="261.7" width="2.0" height="2.7" fill="#fff" stroke="#000" stroke-width="0.8"/>
<line x1="625.5" y1="253" x2="625.5" y2="265.4" stroke="#000" stroke-width="0.9"/>
<rect x="624.5" y="257.3" width="2.0" height="3.3" fill="#fff" stroke="#000" stroke-width="0.8"/>
<line x1="629.24" y1="244" x2="629.24" y2="257" stroke="#000" stroke-width="0.9"/>
<rect x="628.24" y="246" width="2.0" height="10.6" fill="#fff" stroke="#000" stroke-width="0.8"/>
<line x1="516.6" y1="286.75" x2="723" y2="85.1" stroke="#3030a0" stroke-width="2" stroke-linecap="round"/>
<line x1="516.6" y1="370.1" x2="723" y2="168.9" stroke="#3030a0" stroke-width="2" stroke-linecap="round"/>
<circle cx="623.5" cy="266.5" r="18" fill="rgba(255,40,40,0.12)" stroke="#f02828" stroke-width="1.35"/>
<line x1="592.5" y1="291.5" x2="610" y2="236" stroke="#000" stroke-width="0.7"/>
<line x1="629.3" y1="244.5" x2="633" y2="233" stroke="#000" stroke-width="0.8"/>
<ellipse cx="633" cy="232.6" rx="1.8" ry="2.6" fill="#000"/>
<polygon points="83.2,122.5 86.2,125.7 84.3,125.7 84.3,128.7 82.1,128.7 82.1,125.7 80.2,125.7" fill="#1e8c1e"/>
<polygon points="203.2,60.7 206.2,63.9 204.3,63.9 204.3,66.9 202.1,66.9 202.1,63.9 200.2,63.9" fill="#1e8c1e"/>
<polygon points="602.9,249.5 605.9,252.7 604,252.7 604,255.7 601.8,255.7 601.8,252.7 599.9,252.7" fill="#1e8c1e"/>
<polygon points="610.5,238.2 613.5,241.4 611.6,241.4 611.6,244.4 609.4,244.4 609.4,241.4 607.5,241.4" fill="#1e8c1e"/>
<polygon points="12.5,158.5 15.5,155.3 13.6,155.3 13.6,152.3 11.4,152.3 11.4,155.3 9.5,155.3" fill="#a81010"/>
<polygon points="176.9,95.5 179.9,92.3 178,92.3 178,89.3 175.8,89.3 175.8,92.3 173.9,92.3" fill="#a81010"/>
<polygon points="236.6,109.2 239.6,106 237.7,106 237.7,103 235.5,103 235.5,106 233.6,106" fill="#a81010"/>
<polygon points="356.3,201.5 359.3,198.3 357.4,198.3 357.4,195.3 355.2,195.3 355.2,198.3 353.3,198.3" fill="#a81010"/>
<polygon points="378.6,209.5 381.6,206.3 379.7,206.3 379.7,203.3 377.5,203.3 377.5,206.3 375.6,206.3" fill="#a81010"/>
<polygon points="389.9,223.5 392.9,220.3 391,220.3 391,217.3 388.8,217.3 388.8,220.3 386.9,220.3" fill="#a81010"/>
<polygon points="401.3,244 404.3,240.8 402.4,240.8 402.4,237.8 400.2,237.8 400.2,240.8 398.3,240.8" fill="#a81010"/>
<line x1="12.5" y1="162.5" x2="12.5" y2="166.3" stroke="#222" stroke-width="0.7"/>
<line x1="53.5" y1="126.5" x2="53.5" y2="127.2" stroke="#222" stroke-width="0.7"/>
<line x1="214.3" y1="44.3" x2="214.3" y2="54.4" stroke="#222" stroke-width="0.7"/>
<line x1="281.25" y1="161" x2="281.25" y2="172.5" stroke="#222" stroke-width="0.7"/>
<line x1="289" y1="197" x2="289" y2="198.2" stroke="#222" stroke-width="0.7"/>
<line x1="314.6" y1="156.2" x2="314.6" y2="162.5" stroke="#222" stroke-width="0.7"/>
<line x1="363.4" y1="160" x2="363.4" y2="165.6" stroke="#222" stroke-width="0.7"/>
<line x1="386.25" y1="186.8" x2="386.25" y2="201.25" stroke="#222" stroke-width="0.7"/>
<line x1="356.3" y1="205" x2="356.3" y2="216" stroke="#222" stroke-width="0.7"/>
<line x1="382.3" y1="236.25" x2="382.3" y2="236.3" stroke="#222" stroke-width="0.7"/>
<line x1="419.8" y1="331" x2="419.8" y2="366" stroke="#222" stroke-width="0.7"/>
<line x1="431" y1="330.5" x2="431" y2="349" stroke="#222" stroke-width="0.7"/>
<line x1="453.4" y1="326.5" x2="453.4" y2="343.6" stroke="#222" stroke-width="0.7"/>
<line x1="460.2" y1="368.5" x2="460.2" y2="370.4" stroke="#222" stroke-width="0.7"/>
<line x1="427.3" y1="402.5" x2="427.3" y2="427.5" stroke="#222" stroke-width="0.7"/>
<line x1="416" y1="353" x2="416" y2="449.3" stroke="#222" stroke-width="0.7"/>
<line x1="490.75" y1="280" x2="490.75" y2="292" stroke="#222" stroke-width="0.7"/>
<line x1="505.6" y1="277.4" x2="505.6" y2="283" stroke="#222" stroke-width="0.7"/>
<line x1="498.25" y1="310.6" x2="498.25" y2="314.4" stroke="#222" stroke-width="0.7"/>
<line x1="542.75" y1="260.5" x2="542.75" y2="270.6" stroke="#222" stroke-width="0.7"/>
<line x1="558.2" y1="305" x2="558.2" y2="312" stroke="#222" stroke-width="0.7"/>
<line x1="580.75" y1="246.8" x2="580.75" y2="251.9" stroke="#222" stroke-width="0.7"/>
<line x1="591.5" y1="282" x2="591.5" y2="298" stroke="#222" stroke-width="0.7"/>
<circle cx="12.5" cy="171.3" r="4.6000000000000005" fill="none" stroke="#444" stroke-width="0.7"/>
<text class="sf" x="12.5" y="173.9" font-size="7.4" font-weight="bold" text-anchor="middle" fill="#111">ii</text>
<text class="sf" x="53.3" y="124.4" font-size="9" font-weight="bold" text-anchor="middle" fill="#111">(i)</text>
<text class="sf" x="72" y="172.4" font-size="8.4" font-weight="bold" text-anchor="middle" fill="#111">(ii)</text>
<text class="sf" x="101.9" y="67.6" font-size="8.4" font-weight="bold" text-anchor="middle" fill="#111">(iii)</text>
<text class="sf" x="113.8" y="100.1" font-size="8.4" font-weight="bold" text-anchor="middle" fill="#111">(iv)</text>
<circle cx="146.9" cy="41.3" r="4.6000000000000005" fill="none" stroke="#444" stroke-width="0.7"/>
<text class="sf" x="146.9" y="43.9" font-size="7.4" font-weight="bold" text-anchor="middle" fill="#111">iii</text>
<text class="sf" x="146.9" y="56.1" font-size="8.4" font-weight="bold" text-anchor="middle" fill="#111">(v)</text>
<text class="sf" x="161.4" y="94.2" font-size="8.4" font-weight="bold" text-anchor="middle" fill="#111">(a)</text>
<text class="sf" x="169.4" y="67.6" font-size="8.4" font-weight="bold" text-anchor="middle" fill="#111">(b)</text>
<text class="sf" x="173.1" y="110.1" font-size="8.4" font-weight="bold" text-anchor="middle" fill="#111">(c)</text>
<circle cx="173.2" cy="119" r="4.6000000000000005" fill="none" stroke="#444" stroke-width="0.7"/>
<text class="sf" x="173.2" y="121.6" font-size="7.4" font-weight="bold" text-anchor="middle" fill="#111">iv</text>
<circle cx="213.9" cy="39.4" r="4.9" fill="none" stroke="#444" stroke-width="0.7"/>
<text class="sf" x="213.9" y="42" font-size="7.4" font-weight="bold" text-anchor="middle" fill="#111">v</text>
<text x="213.5" y="31.2" font-size="10" text-anchor="middle" fill="#111" stroke="#111" stroke-width="0.25">C</text>
<text x="214" y="18.7" font-size="11" text-anchor="middle" fill="#111" stroke="#111" stroke-width="0.25">(2)</text>
<text x="217.9" y="75" font-size="10" text-anchor="middle" fill="#111" stroke="#111" stroke-width="0.25">1</text>
<text x="225.4" y="53.7" font-size="10.5" text-anchor="middle" fill="#111" stroke="#111" stroke-width="0.25">2</text>
<circle cx="281.25" cy="156" r="4.9" fill="none" stroke="#444" stroke-width="0.7"/>
<text class="sf" x="281.25" y="158.6" font-size="7.4" font-weight="bold" text-anchor="middle" fill="#111">a</text>
<circle cx="289" cy="203.1" r="4.9" fill="none" stroke="#444" stroke-width="0.7"/>
<text class="sf" x="289" y="205.7" font-size="7.4" font-weight="bold" text-anchor="middle" fill="#111">b</text>
<text x="263.9" y="230.3" font-size="9.5" font-weight="bold" textLength="5" lengthAdjust="spacingAndGlyphs" fill="#111">3</text>
<circle cx="314.6" cy="151.3" r="4.9" fill="none" stroke="#444" stroke-width="0.7"/>
<text class="sf" x="314.6" y="153.9" font-size="7.4" font-weight="bold" text-anchor="middle" fill="#111">c</text>
<text x="312.2" y="142.9" font-size="10" font-weight="bold" textLength="5.6" lengthAdjust="spacingAndGlyphs" fill="#111">4</text>
<text class="sf" x="341" y="173.2" font-size="8.4" font-weight="bold" text-anchor="middle" fill="#111">(b)</text>
<text class="sf" x="329.8" y="197" font-size="8.4" font-weight="bold" text-anchor="middle" fill="#111">(a)</text>
<circle cx="363.4" cy="155" r="4.9" fill="none" stroke="#444" stroke-width="0.7"/>
<text class="sf" x="363.4" y="157.6" font-size="7.4" font-weight="bold" text-anchor="middle" fill="#111">ii</text>
<circle cx="386.25" cy="181.9" r="4.9" fill="none" stroke="#444" stroke-width="0.7"/>
<text class="sf" x="386.25" y="184.5" font-size="7.4" font-weight="bold" text-anchor="middle" fill="#111">iv</text>
<text class="sf" x="356.3" y="223.9" font-size="8.4" font-weight="bold" text-anchor="middle" fill="#111">(c)</text>
<circle cx="356.3" cy="233" r="4.9" fill="none" stroke="#444" stroke-width="0.7"/>
<text class="sf" x="356.3" y="235.6" font-size="7.4" font-weight="bold" text-anchor="middle" fill="#111">i</text>
<circle cx="382.3" cy="241.3" r="4.9" fill="none" stroke="#444" stroke-width="0.7"/>
<text class="sf" x="382.3" y="243.9" font-size="7.4" font-weight="bold" text-anchor="middle" fill="#111">iii</text>
<text class="sf" x="419.4" y="329.5" font-size="8.4" font-weight="bold" text-anchor="middle" fill="#111">(i)</text>
<text class="sf" x="431" y="328.9" font-size="8.4" font-weight="bold" text-anchor="middle" fill="#111">(iii)</text>
<circle cx="453.1" cy="309.4" r="4.9" fill="none" stroke="#444" stroke-width="0.7"/>
<text class="sf" x="453.1" y="312" font-size="7.4" font-weight="bold" text-anchor="middle" fill="#111">i</text>
<text class="sf" x="453.1" y="324.5" font-size="8.4" font-weight="bold" text-anchor="middle" fill="#111">(v)</text>
<text class="sf" x="445.6" y="385.1" font-size="8.4" font-weight="bold" text-anchor="middle" fill="#111">(iv)</text>
<circle cx="460.2" cy="375.3" r="4.9" fill="none" stroke="#444" stroke-width="0.7"/>
<text class="sf" x="460.2" y="377.9" font-size="7.4" font-weight="bold" text-anchor="middle" fill="#111">ii</text>
<text class="sf" x="427.3" y="436.2" font-size="8.4" font-weight="bold" text-anchor="middle" fill="#111">(ii)</text>
<circle cx="416.1" cy="454.2" r="5.1000000000000005" fill="none" stroke="#444" stroke-width="0.7"/>
<text class="sf" x="416.1" y="456.8" font-size="7.4" font-weight="bold" text-anchor="middle" fill="#111">v</text>
<circle cx="490.75" cy="275" r="4.9" fill="none" stroke="#444" stroke-width="0.7"/>
<text class="sf" x="490.75" y="277.6" font-size="7.4" font-weight="bold" text-anchor="middle" fill="#111">iii</text>
<circle cx="505.4" cy="272.5" r="4.9" fill="none" stroke="#444" stroke-width="0.7"/>
<text class="sf" x="505.4" y="275.1" font-size="7.4" font-weight="bold" text-anchor="middle" fill="#111">v</text>
<text x="503.1" y="263.2" font-size="9.5" font-weight="bold" textLength="5.8" lengthAdjust="spacingAndGlyphs" fill="#111">A</text>
<circle cx="498.25" cy="319.4" r="4.9" fill="none" stroke="#444" stroke-width="0.7"/>
<text class="sf" x="498.25" y="322" font-size="7.4" font-weight="bold" text-anchor="middle" fill="#111">iv</text>
<text x="514.5" y="380.7" font-size="11" font-weight="bold" textLength="5.8" lengthAdjust="spacingAndGlyphs" fill="#111">B</text>
<circle cx="542.75" cy="255.6" r="4.9" fill="none" stroke="#444" stroke-width="0.7"/>
<text class="sf" x="542.75" y="258.2" font-size="7.4" font-weight="bold" text-anchor="middle" fill="#111">i</text>
<circle cx="558.2" cy="316.9" r="4.9" fill="none" stroke="#444" stroke-width="0.7"/>
<text class="sf" x="558.2" y="319.5" font-size="7.4" font-weight="bold" text-anchor="middle" fill="#111">ii</text>
<circle cx="580.6" cy="241.9" r="4.9" fill="none" stroke="#444" stroke-width="0.7"/>
<text class="sf" x="580.6" y="244.5" font-size="7.4" font-weight="bold" text-anchor="middle" fill="#111">i</text>
<text class="sf" x="591.5" y="306.4" font-size="8.4" font-weight="bold" text-anchor="middle" fill="#111">(ii)</text>
<circle cx="639.2" cy="225.8" r="5.3" fill="none" stroke="#444" stroke-width="0.7"/>
<text class="sf" x="639.2" y="228.4" font-size="8" font-weight="bold" text-anchor="middle" fill="#111">iii</text>
<text class="sf" x="637.2" y="235.2" font-size="7.6" font-weight="bold" text-anchor="middle" fill="#111">(iii)</text>
<text x="644" y="220.7" font-size="10" text-anchor="middle" fill="#111" stroke="#111" stroke-width="0.25">C</text>
<text x="644" y="208.7" font-size="11" text-anchor="middle" fill="#111" stroke="#111" stroke-width="0.25">(4)</text>
<svg x="400" y="455" width="40" height="12" overflow="hidden"><text x="16" y="15" font-size="10" font-weight="bold" text-anchor="middle" fill="#111">5</text></svg>
<rect x="767.5" y="226.44" width="35.8" height="7.8" rx="2.5" ry="2.5" fill="#fff" stroke="#e06868" stroke-width="0.8"/>
<text x="802" y="232.53" font-size="6.4" text-anchor="end" fill="#333" textLength="32.3" lengthAdjust="spacingAndGlyphs">0.0%(246.50)</text>
<rect x="764.2" y="242.31" width="39.1" height="7.8" rx="2.5" ry="2.5" fill="#fff" stroke="#e06868" stroke-width="0.8"/>
<text x="802" y="248.41" font-size="6.4" text-anchor="end" fill="#333" textLength="35.6" lengthAdjust="spacingAndGlyphs">23.6%(242.90)</text>
<rect x="764.2" y="252.15" width="39.1" height="7.8" rx="2.5" ry="2.5" fill="#fff" stroke="#e06868" stroke-width="0.8"/>
<text x="802" y="258.25" font-size="6.4" text-anchor="end" fill="#333" textLength="35.6" lengthAdjust="spacingAndGlyphs">38.2%(240.67)</text>
<rect x="764.2" y="260.04" width="39.1" height="7.8" rx="2.5" ry="2.5" fill="#fff" stroke="#e06868" stroke-width="0.8"/>
<text x="802" y="266.14" font-size="6.4" text-anchor="end" fill="#333" textLength="35.6" lengthAdjust="spacingAndGlyphs">50.0%(238.88)</text>
<rect x="764.2" y="267.98" width="39.1" height="7.8" rx="2.5" ry="2.5" fill="#fff" stroke="#e06868" stroke-width="0.8"/>
<text x="802" y="274.08" font-size="6.4" text-anchor="end" fill="#333" textLength="35.6" lengthAdjust="spacingAndGlyphs">61.8%(237.08)</text>
<rect x="764.2" y="279.31" width="39.1" height="7.8" rx="2.5" ry="2.5" fill="#fff" stroke="#e06868" stroke-width="0.8"/>
<text x="802" y="285.41" font-size="6.4" text-anchor="end" fill="#333" textLength="35.6" lengthAdjust="spacingAndGlyphs">78.6%(234.51)</text>
<rect x="761" y="293.25" width="42.3" height="7.8" rx="2.5" ry="2.5" fill="#fff" stroke="#e06868" stroke-width="0.8"/>
<text x="802" y="299.35" font-size="6.4" text-anchor="end" fill="#333" textLength="38.8" lengthAdjust="spacingAndGlyphs">100.0%(231.35)</text>
<rect x="997" y="1" width="26" height="467" fill="#fff"/>
<rect x="1" y="467" width="1000" height="11" fill="#fff"/>
<line x1="997" y1="1" x2="997" y2="467.5" stroke="#d8d8cc" stroke-width="1"/>
<line x1="1" y1="467.5" x2="997" y2="467.5" stroke="#d8d8cc" stroke-width="1"/>
<line x1="1000.5" y1="1" x2="1000.5" y2="471" stroke="#444" stroke-width="1"/>
<line x1="1" y1="470.5" x2="1001" y2="470.5" stroke="#444" stroke-width="1"/>
<line x1="998" y1="3.22" x2="1000.5" y2="3.22" stroke="#444" stroke-width="0.9"/>
<line x1="998" y1="7.63" x2="1000.5" y2="7.63" stroke="#444" stroke-width="0.9"/>
<line x1="998" y1="12.04" x2="1000.5" y2="12.04" stroke="#444" stroke-width="0.9"/>
<line x1="997" y1="16.45" x2="1000.5" y2="16.45" stroke="#444" stroke-width="0.9"/>
<text x="1002" y="18.95" font-size="7" fill="#333" textLength="19.6" lengthAdjust="spacingAndGlyphs">295.00</text>
<line x1="998" y1="20.86" x2="1000.5" y2="20.86" stroke="#444" stroke-width="0.9"/>
<line x1="998" y1="25.27" x2="1000.5" y2="25.27" stroke="#444" stroke-width="0.9"/>
<line x1="998" y1="29.68" x2="1000.5" y2="29.68" stroke="#444" stroke-width="0.9"/>
<line x1="998" y1="34.09" x2="1000.5" y2="34.09" stroke="#444" stroke-width="0.9"/>
<line x1="997" y1="38.5" x2="1000.5" y2="38.5" stroke="#444" stroke-width="0.9"/>
<text x="1002" y="41" font-size="7" fill="#333" textLength="19.6" lengthAdjust="spacingAndGlyphs">290.00</text>
<line x1="998" y1="42.91" x2="1000.5" y2="42.91" stroke="#444" stroke-width="0.9"/>
<line x1="998" y1="47.32" x2="1000.5" y2="47.32" stroke="#444" stroke-width="0.9"/>
<line x1="998" y1="51.73" x2="1000.5" y2="51.73" stroke="#444" stroke-width="0.9"/>
<line x1="998" y1="56.14" x2="1000.5" y2="56.14" stroke="#444" stroke-width="0.9"/>
<line x1="997" y1="60.55" x2="1000.5" y2="60.55" stroke="#444" stroke-width="0.9"/>
<text x="1002" y="63.05" font-size="7" fill="#333" textLength="19.6" lengthAdjust="spacingAndGlyphs">285.00</text>
<line x1="998" y1="64.96" x2="1000.5" y2="64.96" stroke="#444" stroke-width="0.9"/>
<line x1="998" y1="69.37" x2="1000.5" y2="69.37" stroke="#444" stroke-width="0.9"/>
<line x1="998" y1="73.78" x2="1000.5" y2="73.78" stroke="#444" stroke-width="0.9"/>
<line x1="998" y1="78.19" x2="1000.5" y2="78.19" stroke="#444" stroke-width="0.9"/>
<line x1="997" y1="82.6" x2="1000.5" y2="82.6" stroke="#444" stroke-width="0.9"/>
<text x="1002" y="85.1" font-size="7" fill="#333" textLength="19.6" lengthAdjust="spacingAndGlyphs">280.00</text>
<line x1="998" y1="87.01" x2="1000.5" y2="87.01" stroke="#444" stroke-width="0.9"/>
<line x1="998" y1="91.42" x2="1000.5" y2="91.42" stroke="#444" stroke-width="0.9"/>
<line x1="998" y1="95.83" x2="1000.5" y2="95.83" stroke="#444" stroke-width="0.9"/>
<line x1="998" y1="100.24" x2="1000.5" y2="100.24" stroke="#444" stroke-width="0.9"/>
<line x1="997" y1="104.65" x2="1000.5" y2="104.65" stroke="#444" stroke-width="0.9"/>
<text x="1002" y="107.15" font-size="7" fill="#333" textLength="19.6" lengthAdjust="spacingAndGlyphs">275.00</text>
<line x1="998" y1="109.06" x2="1000.5" y2="109.06" stroke="#444" stroke-width="0.9"/>
<line x1="998" y1="113.47" x2="1000.5" y2="113.47" stroke="#444" stroke-width="0.9"/>
<line x1="998" y1="117.88" x2="1000.5" y2="117.88" stroke="#444" stroke-width="0.9"/>
<line x1="998" y1="122.29" x2="1000.5" y2="122.29" stroke="#444" stroke-width="0.9"/>
<line x1="997" y1="126.7" x2="1000.5" y2="126.7" stroke="#444" stroke-width="0.9"/>
<text x="1002" y="129.2" font-size="7" fill="#333" textLength="19.6" lengthAdjust="spacingAndGlyphs">270.00</text>
<line x1="998" y1="131.11" x2="1000.5" y2="131.11" stroke="#444" stroke-width="0.9"/>
<line x1="998" y1="135.52" x2="1000.5" y2="135.52" stroke="#444" stroke-width="0.9"/>
<line x1="998" y1="139.93" x2="1000.5" y2="139.93" stroke="#444" stroke-width="0.9"/>
<line x1="998" y1="144.34" x2="1000.5" y2="144.34" stroke="#444" stroke-width="0.9"/>
<line x1="997" y1="148.75" x2="1000.5" y2="148.75" stroke="#444" stroke-width="0.9"/>
<text x="1002" y="151.25" font-size="7" fill="#333" textLength="19.6" lengthAdjust="spacingAndGlyphs">265.00</text>
<line x1="998" y1="153.16" x2="1000.5" y2="153.16" stroke="#444" stroke-width="0.9"/>
<line x1="998" y1="157.57" x2="1000.5" y2="157.57" stroke="#444" stroke-width="0.9"/>
<line x1="998" y1="161.98" x2="1000.5" y2="161.98" stroke="#444" stroke-width="0.9"/>
<line x1="998" y1="166.39" x2="1000.5" y2="166.39" stroke="#444" stroke-width="0.9"/>
<line x1="997" y1="170.8" x2="1000.5" y2="170.8" stroke="#444" stroke-width="0.9"/>
<text x="1002" y="173.3" font-size="7" fill="#333" textLength="19.6" lengthAdjust="spacingAndGlyphs">260.00</text>
<line x1="998" y1="175.21" x2="1000.5" y2="175.21" stroke="#444" stroke-width="0.9"/>
<line x1="998" y1="179.62" x2="1000.5" y2="179.62" stroke="#444" stroke-width="0.9"/>
<line x1="998" y1="184.03" x2="1000.5" y2="184.03" stroke="#444" stroke-width="0.9"/>
<line x1="998" y1="188.44" x2="1000.5" y2="188.44" stroke="#444" stroke-width="0.9"/>
<line x1="997" y1="192.85" x2="1000.5" y2="192.85" stroke="#444" stroke-width="0.9"/>
<text x="1002" y="195.35" font-size="7" fill="#333" textLength="19.6" lengthAdjust="spacingAndGlyphs">255.00</text>
<line x1="998" y1="197.26" x2="1000.5" y2="197.26" stroke="#444" stroke-width="0.9"/>
<line x1="998" y1="201.67" x2="1000.5" y2="201.67" stroke="#444" stroke-width="0.9"/>
<line x1="998" y1="206.08" x2="1000.5" y2="206.08" stroke="#444" stroke-width="0.9"/>
<line x1="998" y1="210.49" x2="1000.5" y2="210.49" stroke="#444" stroke-width="0.9"/>
<line x1="997" y1="214.9" x2="1000.5" y2="214.9" stroke="#444" stroke-width="0.9"/>
<text x="1002" y="217.4" font-size="7" fill="#333" textLength="19.6" lengthAdjust="spacingAndGlyphs">250.00</text>
<line x1="998" y1="219.31" x2="1000.5" y2="219.31" stroke="#444" stroke-width="0.9"/>
<line x1="998" y1="223.72" x2="1000.5" y2="223.72" stroke="#444" stroke-width="0.9"/>
<line x1="998" y1="228.13" x2="1000.5" y2="228.13" stroke="#444" stroke-width="0.9"/>
<line x1="998" y1="232.54" x2="1000.5" y2="232.54" stroke="#444" stroke-width="0.9"/>
<line x1="997" y1="236.95" x2="1000.5" y2="236.95" stroke="#444" stroke-width="0.9"/>
<text x="1002" y="239.45" font-size="7" fill="#333" textLength="19.6" lengthAdjust="spacingAndGlyphs">245.00</text>
<line x1="998" y1="241.36" x2="1000.5" y2="241.36" stroke="#444" stroke-width="0.9"/>
<line x1="998" y1="245.77" x2="1000.5" y2="245.77" stroke="#444" stroke-width="0.9"/>
<line x1="998" y1="250.18" x2="1000.5" y2="250.18" stroke="#444" stroke-width="0.9"/>
<line x1="998" y1="254.59" x2="1000.5" y2="254.59" stroke="#444" stroke-width="0.9"/>
<line x1="997" y1="259" x2="1000.5" y2="259" stroke="#444" stroke-width="0.9"/>
<text x="1002" y="261.5" font-size="7" fill="#333" textLength="19.6" lengthAdjust="spacingAndGlyphs">240.00</text>
<line x1="998" y1="263.41" x2="1000.5" y2="263.41" stroke="#444" stroke-width="0.9"/>
<line x1="998" y1="267.82" x2="1000.5" y2="267.82" stroke="#444" stroke-width="0.9"/>
<line x1="998" y1="272.23" x2="1000.5" y2="272.23" stroke="#444" stroke-width="0.9"/>
<line x1="998" y1="276.64" x2="1000.5" y2="276.64" stroke="#444" stroke-width="0.9"/>
<line x1="997" y1="281.05" x2="1000.5" y2="281.05" stroke="#444" stroke-width="0.9"/>
<text x="1002" y="283.55" font-size="7" fill="#333" textLength="19.6" lengthAdjust="spacingAndGlyphs">235.00</text>
<line x1="998" y1="285.46" x2="1000.5" y2="285.46" stroke="#444" stroke-width="0.9"/>
<line x1="998" y1="289.87" x2="1000.5" y2="289.87" stroke="#444" stroke-width="0.9"/>
<line x1="998" y1="294.28" x2="1000.5" y2="294.28" stroke="#444" stroke-width="0.9"/>
<line x1="998" y1="298.69" x2="1000.5" y2="298.69" stroke="#444" stroke-width="0.9"/>
<line x1="997" y1="303.1" x2="1000.5" y2="303.1" stroke="#444" stroke-width="0.9"/>
<text x="1002" y="305.6" font-size="7" fill="#333" textLength="19.6" lengthAdjust="spacingAndGlyphs">230.00</text>
<line x1="998" y1="307.51" x2="1000.5" y2="307.51" stroke="#444" stroke-width="0.9"/>
<line x1="998" y1="311.92" x2="1000.5" y2="311.92" stroke="#444" stroke-width="0.9"/>
<line x1="998" y1="316.33" x2="1000.5" y2="316.33" stroke="#444" stroke-width="0.9"/>
<line x1="998" y1="320.74" x2="1000.5" y2="320.74" stroke="#444" stroke-width="0.9"/>
<line x1="997" y1="325.15" x2="1000.5" y2="325.15" stroke="#444" stroke-width="0.9"/>
<text x="1002" y="327.65" font-size="7" fill="#333" textLength="19.6" lengthAdjust="spacingAndGlyphs">225.00</text>
<line x1="998" y1="329.56" x2="1000.5" y2="329.56" stroke="#444" stroke-width="0.9"/>
<line x1="998" y1="333.97" x2="1000.5" y2="333.97" stroke="#444" stroke-width="0.9"/>
<line x1="998" y1="338.38" x2="1000.5" y2="338.38" stroke="#444" stroke-width="0.9"/>
<line x1="998" y1="342.79" x2="1000.5" y2="342.79" stroke="#444" stroke-width="0.9"/>
<line x1="997" y1="347.2" x2="1000.5" y2="347.2" stroke="#444" stroke-width="0.9"/>
<text x="1002" y="349.7" font-size="7" fill="#333" textLength="19.6" lengthAdjust="spacingAndGlyphs">220.00</text>
<line x1="998" y1="351.61" x2="1000.5" y2="351.61" stroke="#444" stroke-width="0.9"/>
<line x1="998" y1="356.02" x2="1000.5" y2="356.02" stroke="#444" stroke-width="0.9"/>
<line x1="998" y1="360.43" x2="1000.5" y2="360.43" stroke="#444" stroke-width="0.9"/>
<line x1="998" y1="364.84" x2="1000.5" y2="364.84" stroke="#444" stroke-width="0.9"/>
<line x1="997" y1="369.25" x2="1000.5" y2="369.25" stroke="#444" stroke-width="0.9"/>
<text x="1002" y="371.75" font-size="7" fill="#333" textLength="19.6" lengthAdjust="spacingAndGlyphs">215.00</text>
<line x1="998" y1="373.66" x2="1000.5" y2="373.66" stroke="#444" stroke-width="0.9"/>
<line x1="998" y1="378.07" x2="1000.5" y2="378.07" stroke="#444" stroke-width="0.9"/>
<line x1="998" y1="382.48" x2="1000.5" y2="382.48" stroke="#444" stroke-width="0.9"/>
<line x1="998" y1="386.89" x2="1000.5" y2="386.89" stroke="#444" stroke-width="0.9"/>
<line x1="997" y1="391.3" x2="1000.5" y2="391.3" stroke="#444" stroke-width="0.9"/>
<text x="1002" y="393.8" font-size="7" fill="#333" textLength="19.6" lengthAdjust="spacingAndGlyphs">210.00</text>
<line x1="998" y1="395.71" x2="1000.5" y2="395.71" stroke="#444" stroke-width="0.9"/>
<line x1="998" y1="400.12" x2="1000.5" y2="400.12" stroke="#444" stroke-width="0.9"/>
<line x1="998" y1="404.53" x2="1000.5" y2="404.53" stroke="#444" stroke-width="0.9"/>
<line x1="998" y1="408.94" x2="1000.5" y2="408.94" stroke="#444" stroke-width="0.9"/>
<line x1="997" y1="413.35" x2="1000.5" y2="413.35" stroke="#444" stroke-width="0.9"/>
<text x="1002" y="415.85" font-size="7" fill="#333" textLength="19.6" lengthAdjust="spacingAndGlyphs">205.00</text>
<line x1="998" y1="417.76" x2="1000.5" y2="417.76" stroke="#444" stroke-width="0.9"/>
<line x1="998" y1="422.17" x2="1000.5" y2="422.17" stroke="#444" stroke-width="0.9"/>
<line x1="998" y1="426.58" x2="1000.5" y2="426.58" stroke="#444" stroke-width="0.9"/>
<line x1="998" y1="430.99" x2="1000.5" y2="430.99" stroke="#444" stroke-width="0.9"/>
<line x1="997" y1="435.4" x2="1000.5" y2="435.4" stroke="#444" stroke-width="0.9"/>
<text x="1002" y="437.9" font-size="7" fill="#333" textLength="19.6" lengthAdjust="spacingAndGlyphs">200.00</text>
<line x1="998" y1="439.81" x2="1000.5" y2="439.81" stroke="#444" stroke-width="0.9"/>
<line x1="998" y1="444.22" x2="1000.5" y2="444.22" stroke="#444" stroke-width="0.9"/>
<line x1="998" y1="448.63" x2="1000.5" y2="448.63" stroke="#444" stroke-width="0.9"/>
<line x1="998" y1="453.04" x2="1000.5" y2="453.04" stroke="#444" stroke-width="0.9"/>
<line x1="997" y1="457.45" x2="1000.5" y2="457.45" stroke="#444" stroke-width="0.9"/>
<text x="1002" y="459.95" font-size="7" fill="#333" textLength="19.6" lengthAdjust="spacingAndGlyphs">195.00</text>
<line x1="998" y1="461.86" x2="1000.5" y2="461.86" stroke="#444" stroke-width="0.9"/>
<line x1="998" y1="466.27" x2="1000.5" y2="466.27" stroke="#444" stroke-width="0.9"/>
<line x1="64.6" y1="467" x2="64.6" y2="470.5" stroke="#444" stroke-width="0.9"/>
<text x="50.72" y="477" font-size="7" fill="#333" textLength="27.76" lengthAdjust="spacingAndGlyphs">Dec-2019</text>
<line x1="98.4" y1="467" x2="98.4" y2="470.5" stroke="#444" stroke-width="0.9"/>
<text x="88.31" y="477" font-size="7" fill="#333" textLength="20.17" lengthAdjust="spacingAndGlyphs">Dec-11</text>
<line x1="165.3" y1="467" x2="165.3" y2="470.5" stroke="#444" stroke-width="0.9"/>
<text x="151.95" y="477" font-size="7" fill="#333" textLength="26.69" lengthAdjust="spacingAndGlyphs">Jan-2020</text>
<line x1="199" y1="467" x2="199" y2="470.5" stroke="#444" stroke-width="0.9"/>
<text x="189.21" y="477" font-size="7" fill="#333" textLength="19.57" lengthAdjust="spacingAndGlyphs">Jan-12</text>
<line x1="266.4" y1="467" x2="266.4" y2="470.5" stroke="#444" stroke-width="0.9"/>
<text x="252.7" y="477" font-size="7" fill="#333" textLength="27.41" lengthAdjust="spacingAndGlyphs">Feb-2020</text>
<line x1="300.4" y1="467" x2="300.4" y2="470.5" stroke="#444" stroke-width="0.9"/>
<text x="290.26" y="477" font-size="7" fill="#333" textLength="20.29" lengthAdjust="spacingAndGlyphs">Feb-12</text>
<line x1="356.2" y1="467" x2="356.2" y2="470.5" stroke="#444" stroke-width="0.9"/>
<text x="342.5" y="477" font-size="7" fill="#333" textLength="27.39" lengthAdjust="spacingAndGlyphs">Mar-2020</text>
<line x1="389.7" y1="467" x2="389.7" y2="470.5" stroke="#444" stroke-width="0.9"/>
<text x="379.8" y="477" font-size="7" fill="#333" textLength="19.8" lengthAdjust="spacingAndGlyphs">Mar-11</text>
<line x1="457.3" y1="467" x2="457.3" y2="470.5" stroke="#444" stroke-width="0.9"/>
<text x="444.13" y="477" font-size="7" fill="#333" textLength="26.33" lengthAdjust="spacingAndGlyphs">Apr-2020</text>
<line x1="490.8" y1="467" x2="490.8" y2="470.5" stroke="#444" stroke-width="0.9"/>
<text x="481.19" y="477" font-size="7" fill="#333" textLength="19.21" lengthAdjust="spacingAndGlyphs">Apr-13</text>
<line x1="550.5" y1="467" x2="550.5" y2="470.5" stroke="#444" stroke-width="0.9"/>
<text x="536.27" y="477" font-size="7" fill="#333" textLength="28.47" lengthAdjust="spacingAndGlyphs">May-2020</text>
<line x1="584.3" y1="467" x2="584.3" y2="470.5" stroke="#444" stroke-width="0.9"/>
<text x="573.63" y="477" font-size="7" fill="#333" textLength="21.35" lengthAdjust="spacingAndGlyphs">May-12</text>
<line x1="644.2" y1="467" x2="644.2" y2="470.5" stroke="#444" stroke-width="0.9"/>
<text x="630.85" y="477" font-size="7" fill="#333" textLength="26.69" lengthAdjust="spacingAndGlyphs">Jun-2020</text>
<line x1="677.7" y1="467" x2="677.7" y2="470.5" stroke="#444" stroke-width="0.9"/>
<text x="667.91" y="477" font-size="7" fill="#333" textLength="19.57" lengthAdjust="spacingAndGlyphs">Jun-12</text>
<line x1="726.4" y1="467" x2="726.4" y2="470.5" stroke="#444" stroke-width="0.9"/>
<text x="714.12" y="477" font-size="7" fill="#333" textLength="24.56" lengthAdjust="spacingAndGlyphs">Jul-2020</text>
<line x1="759.8" y1="467" x2="759.8" y2="470.5" stroke="#444" stroke-width="0.9"/>
<text x="751.08" y="477" font-size="7" fill="#333" textLength="17.44" lengthAdjust="spacingAndGlyphs">Jul-14</text>
<line x1="812.5" y1="467" x2="812.5" y2="470.5" stroke="#444" stroke-width="0.9"/>
<text x="798.62" y="477" font-size="7" fill="#333" textLength="27.76" lengthAdjust="spacingAndGlyphs">Aug-2020</text>
<line x1="845.8" y1="467" x2="845.8" y2="470.5" stroke="#444" stroke-width="0.9"/>
<text x="835.48" y="477" font-size="7" fill="#333" textLength="20.64" lengthAdjust="spacingAndGlyphs">Aug-14</text>
<line x1="890.5" y1="467" x2="890.5" y2="470.5" stroke="#444" stroke-width="0.9"/>
<text x="876.62" y="477" font-size="7" fill="#333" textLength="27.76" lengthAdjust="spacingAndGlyphs">Sep-2020</text>
<line x1="924.5" y1="467" x2="924.5" y2="470.5" stroke="#444" stroke-width="0.9"/>
<text x="914.18" y="477" font-size="7" fill="#333" textLength="20.64" lengthAdjust="spacingAndGlyphs">Sep-13</text>
<line x1="972.8" y1="467" x2="972.8" y2="470.5" stroke="#444" stroke-width="0.9"/>
<polygon points="998.4,241 1000.8,239.9 1023,239.9 1023,242.6 1000.8,242.6" fill="#e8f6f6" stroke="#88c8c8" stroke-width="0.8"/>
<polygon points="997.2,246.2 1000.6,242.7 1023,242.7 1023,249.6 1000.6,249.6" fill="#fff" stroke="#555" stroke-width="0.8"/>
<text x="1001.8" y="248.7" font-size="7" fill="#222" textLength="20" lengthAdjust="spacingAndGlyphs">243.00</text>
<polygon points="997.4,258.3 1000.8,254.8 1023,254.8 1023,261.8 1000.8,261.8" fill="#f6c4c4" stroke="#555" stroke-width="0.8"/>
<text x="1001.8" y="260.8" font-size="7" fill="#222" textLength="20" lengthAdjust="spacingAndGlyphs">240.20</text>
<text x="3.9" y="8.8" font-size="7" font-weight="bold" fill="#222">CUUUSD - 1 day</text>
<text x="5" y="18" font-size="5.9" fill="#5aa7ab">BB(20,20,2.0,2.0)</text>
<rect x="927" y="1" width="64.3" height="63.3" fill="#ee2a2f"/>
<line x1="972.8" y1="1" x2="972.8" y2="64" stroke="#e0262a" stroke-width="1" stroke-dasharray="1.6,1.6"/>
<text x="937.2" y="34.1" font-size="17.4" font-weight="bold" fill="#fff" textLength="44.9" lengthAdjust="spacingAndGlyphs" style="font-family:'Liberation Serif',serif">FxPro</text>
<text x="937.3" y="42.6" font-size="6.2" fill="#fff" stroke="#fff" stroke-width="0.2" textLength="44.5" lengthAdjust="spacingAndGlyphs">Trade Like a Pro</text>
<rect x="0.5" y="0.5" width="1023" height="478" fill="none" stroke="#505050" stroke-width="1"/>
</svg></body></html>
